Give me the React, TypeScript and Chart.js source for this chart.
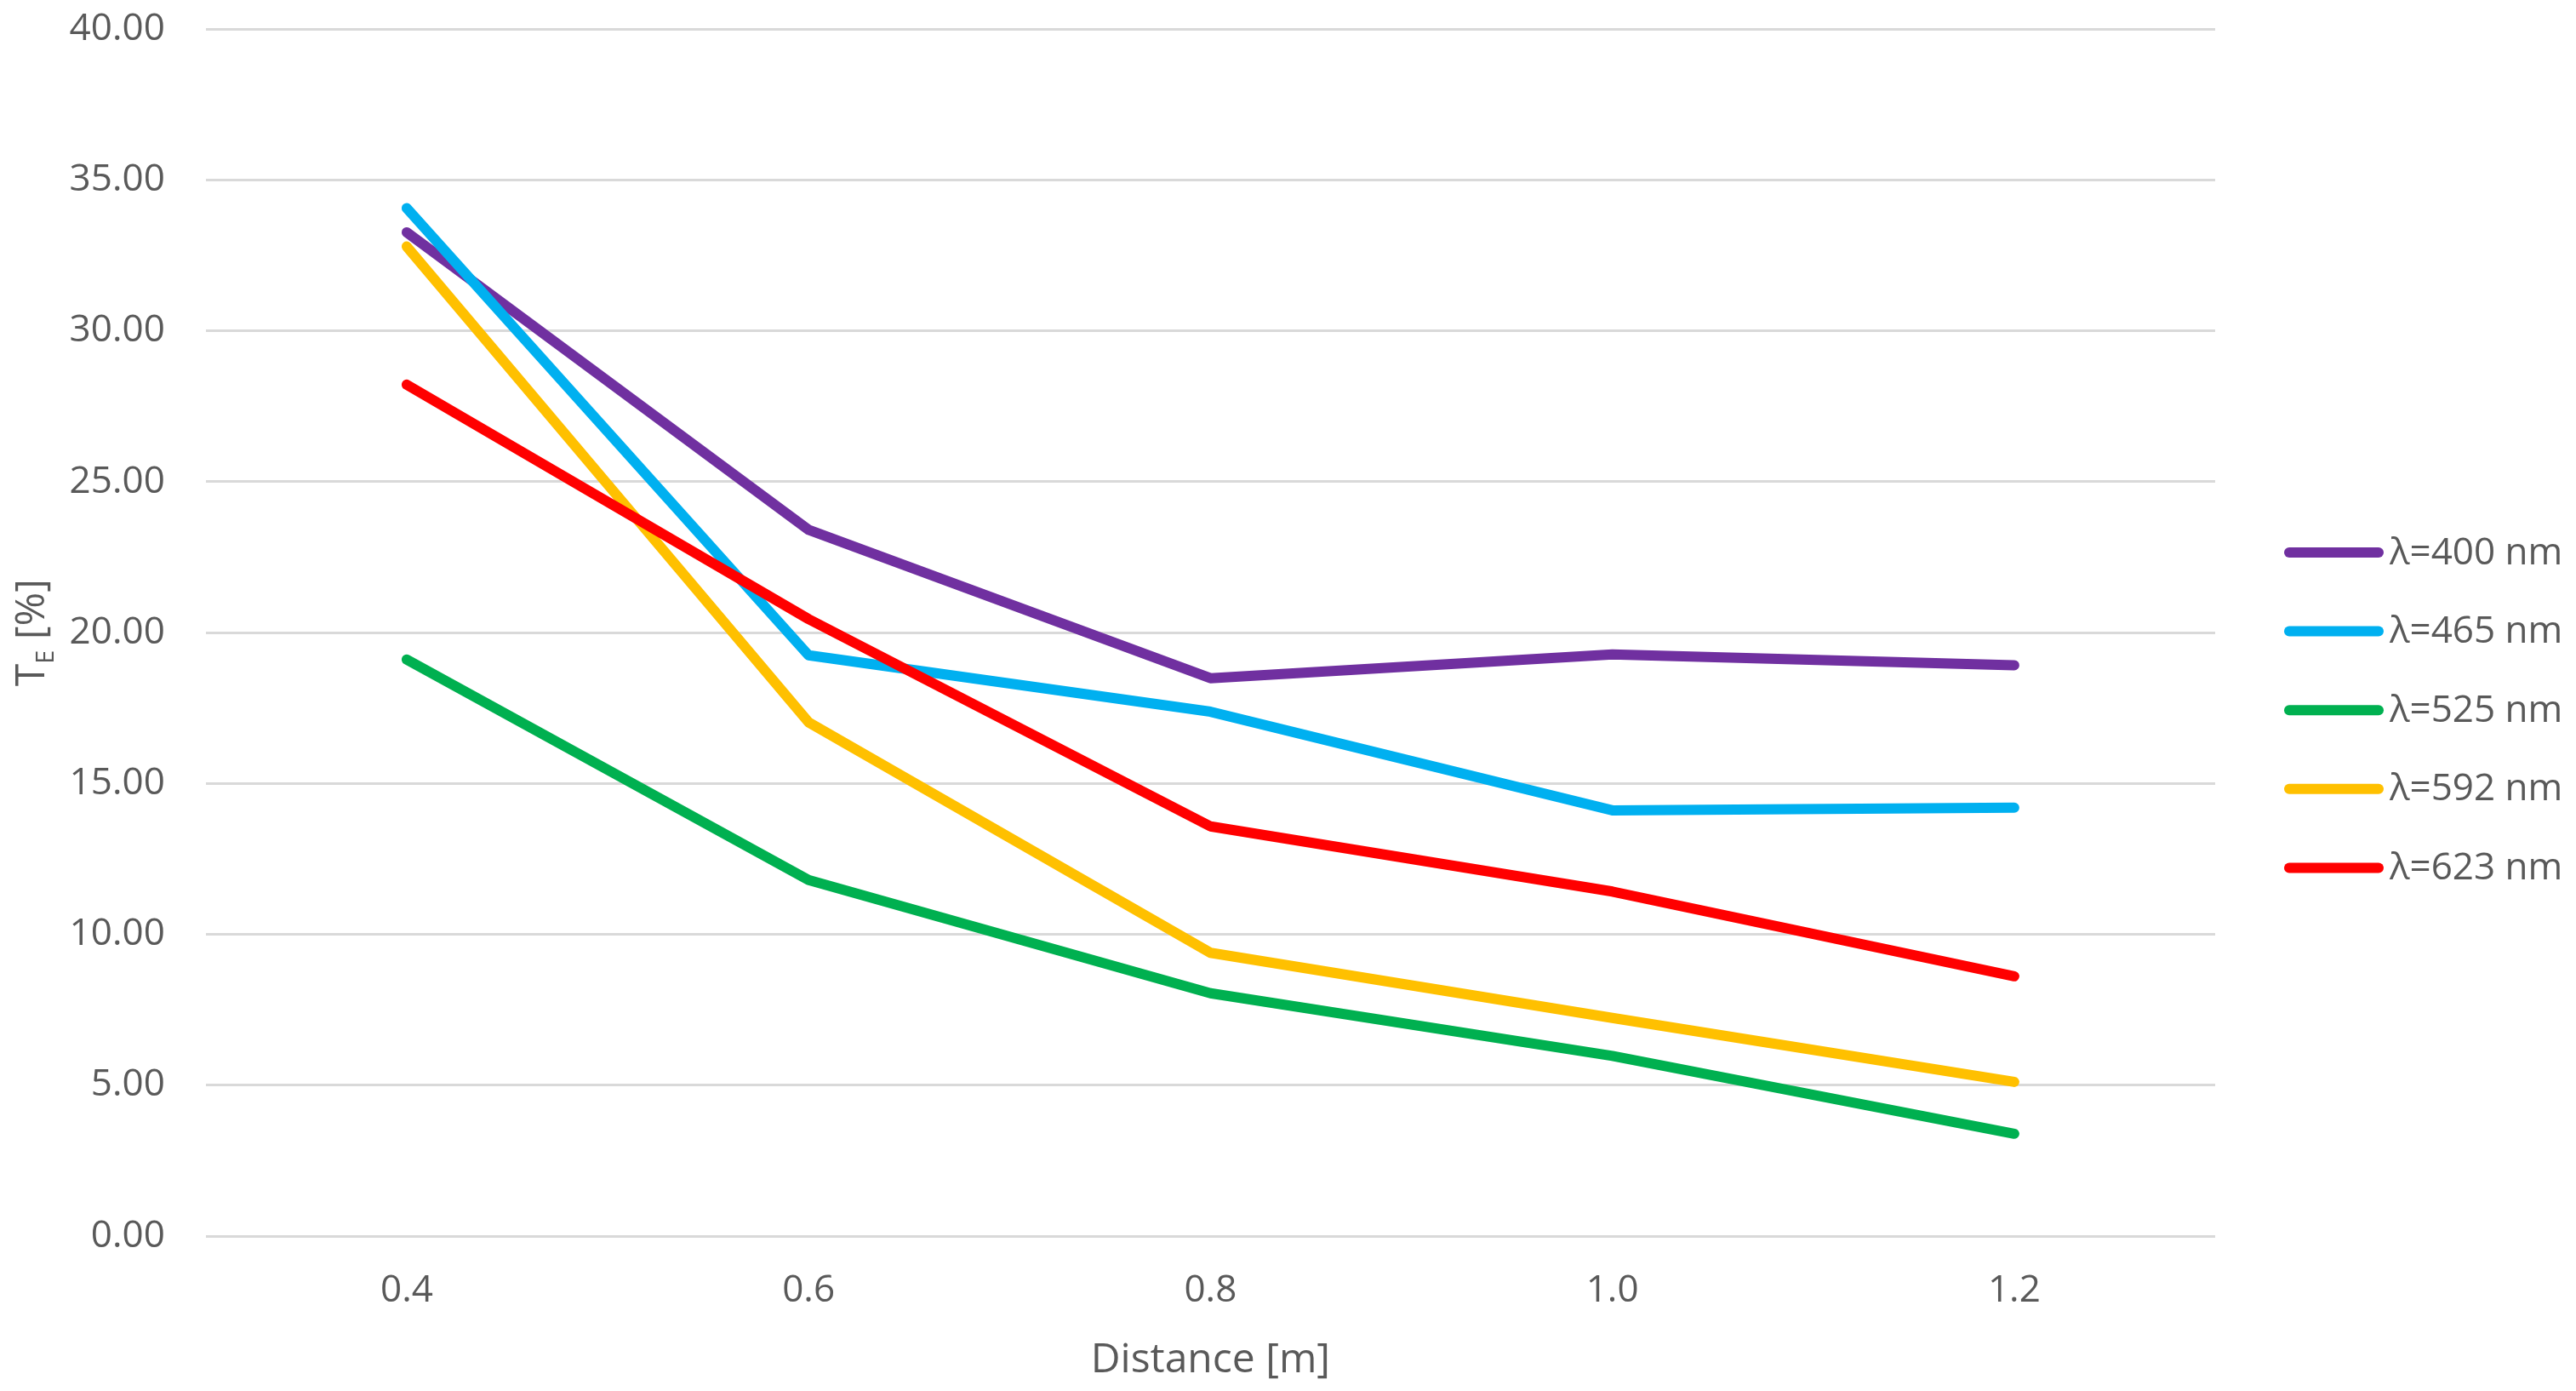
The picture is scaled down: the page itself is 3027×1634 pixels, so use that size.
import React, { useEffect, useRef } from 'react';
import { Chart, registerables } from 'chart.js';

Chart.register(...registerables);

// ---- data ----
const distances = ['0.4', '0.6', '0.8', '1.0', '1.2'];
const seriesLabels = ['λ=400 nm', 'λ=465 nm', 'λ=525 nm', 'λ=592 nm', 'λ=623 nm'];
const te400 = [33.27, 23.41, 18.49, 19.28, 18.92];
const te465 = [34.07, 19.25, 17.38, 14.11, 14.2];
const te525 = [19.11, 11.8, 8.05, 5.97, 3.39];
const te592 = [32.8, 17.03, 9.39, 7.23, 5.11];
const te623 = [28.22, 20.45, 13.58, 11.42, 8.61];
const seriesColors = ['#7030A0', '#00B0F0', '#00B050', '#FFC000', '#FF0000'];
const yMin = 0;
const yMax = 40;
const yStep = 5;
const xTitle = 'Distance [m]';
const yTitleMain = 'T';
const yTitleSub = 'E';
const yTitleRest = ' [%]';

const FONT = "'Open Sans', 'Noto Sans', sans-serif";
const TEXT = '#595959';
const LEGEND_SPACE = 424;

const yTitlePlugin = {
  id: 'yTitleSub',
  afterDraw(chart: any) {
    const s = chart.scales.y;
    if (!s) return;
    const ctx = chart.ctx;
    const big = 48;
    const small = 29;
    ctx.save();
    const cx = s.left + 30;
    const cy = (s.top + s.bottom) / 2;
    ctx.translate(cx, cy);
    ctx.rotate(-Math.PI / 2);
    ctx.fillStyle = TEXT;
    ctx.textBaseline = 'alphabetic';
    ctx.textAlign = 'left';
    ctx.font = `${big}px ${FONT}`;
    const w1 = ctx.measureText(yTitleMain).width;
    const w3 = ctx.measureText(yTitleRest).width;
    ctx.font = `${small}px ${FONT}`;
    const w2 = ctx.measureText(yTitleSub).width;
    const total = w1 + w2 + w3;
    let x = -total / 2;
    const base = big * 0.36;
    ctx.font = `${big}px ${FONT}`;
    ctx.fillText(yTitleMain, x, base);
    x += w1;
    ctx.font = `${small}px ${FONT}`;
    ctx.fillText(yTitleSub, x, base + 11);
    x += w2;
    ctx.font = `${big}px ${FONT}`;
    ctx.fillText(yTitleRest, x, base);
    ctx.restore();
  },
};

// legend drawn on the canvas to the right of the plot, from the datasets
const sideLegendPlugin = {
  id: 'sideLegend',
  afterDraw(chart: any) {
    const ctx = chart.ctx;
    const ca = chart.chartArea;
    const ds = chart.data.datasets;
    const step = 92.6;
    const lineLen = 105;
    const x0 = ca.right + 87;
    const midY = (ca.top + chart.height) / 2;
    const y0 = midY - ((ds.length - 1) * step) / 2;
    ctx.save();
    ctx.font = `44px ${FONT}`;
    ctx.textBaseline = 'middle';
    ctx.textAlign = 'left';
    ds.forEach((d: any, i: number) => {
      const y = y0 + i * step;
      ctx.strokeStyle = d.borderColor;
      ctx.lineWidth = 12;
      ctx.lineCap = 'round';
      ctx.beginPath();
      ctx.moveTo(x0, y);
      ctx.lineTo(x0 + lineLen, y);
      ctx.stroke();
      ctx.fillStyle = TEXT;
      ctx.fillText(d.label, x0 + lineLen + 13, y + 1);
    });
    ctx.restore();
  },
};

export default function App() {
  const ref = useRef<HTMLCanvasElement | null>(null);
  useEffect(() => {
    if (!ref.current) return;
    const all = [te400, te465, te525, te592, te623];
    const chart = new Chart(ref.current, {
      type: 'line',
      data: {
        labels: distances,
        datasets: all.map((d, i) => ({
          label: seriesLabels[i],
          data: d,
          borderColor: seriesColors[i],
          backgroundColor: seriesColors[i],
          borderWidth: 12,
          borderCapStyle: 'round',
          borderJoinStyle: 'round',
          pointRadius: 0,
          pointHoverRadius: 0,
          tension: 0,
          fill: false,
          order: all.length - 1 - i,
        })),
      },
      options: {
        animation: false,
        responsive: true,
        maintainAspectRatio: false,
        devicePixelRatio: 1,
        layout: { padding: { left: 5, top: 34, right: LEGEND_SPACE, bottom: 11.6 } },
        plugins: {
          tooltip: { enabled: false },
          legend: { display: false },
        },
        scales: {
          x: {
            type: 'category',
            offset: true,
            grid: { display: false, drawTicks: false },
            border: { display: false },
            ticks: { color: TEXT, font: { family: FONT, size: 44 }, padding: 38, maxRotation: 0 },
            title: {
              display: true,
              text: xTitle,
              color: TEXT,
              font: { family: FONT, size: 48, lineHeight: 1.0 },
              padding: { top: -6.4, bottom: 0 },
            },
          },
          y: {
            min: yMin,
            max: yMax,
            grid: {
              color: '#D9D9D9',
              lineWidth: 3,
              drawTicks: true,
              tickLength: 40,
              tickColor: 'rgba(0,0,0,0)',
            },
            border: { display: false },
            ticks: {
              stepSize: yStep,
              color: TEXT,
              padding: 8,
              font: { family: FONT, size: 44 },
              callback: (v: any) => Number(v).toFixed(2),
            },
            title: {
              display: true,
              text: 'TE [%]',
              color: 'rgba(0,0,0,0)',
              font: { family: FONT, size: 48, lineHeight: 1.2 },
              padding: { top: 0, bottom: 11 },
            },
          },
        },
      } as any,
      plugins: [yTitlePlugin, sideLegendPlugin],
    });
    return () => chart.destroy();
  }, []);
  return (
    <div style={{ position: 'fixed', left: 0, top: 0, width: '100vw', height: '100vh', background: '#fff' }}>
      <canvas ref={ref} />
    </div>
  );
}
